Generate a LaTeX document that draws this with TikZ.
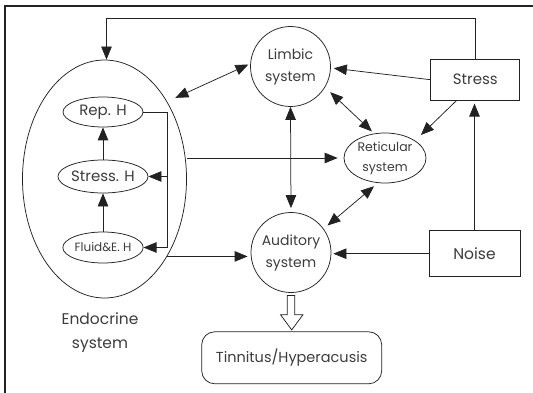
\documentclass[tikz,border=0pt]{standalone}
\usepackage{fontspec}
\setmainfont{Poppins}
\usetikzlibrary{shapes.geometric,arrows.meta,calc}
\definecolor{ln}{HTML}{222222}
\definecolor{tx}{HTML}{3C3C3C}
\begin{document}
\begin{tikzpicture}[x=1pt,y=-1pt,
  every node/.style={text=tx, align=center, inner sep=0pt, line width=0.75pt, draw=ln},
  lbl/.style={draw=none},
  circ/.style={circle, minimum size=80pt},
  ell/.style={ellipse},
  boxn/.style={rectangle},
  arr/.style={draw=ln, line width=0.75pt, -{Triangle[length=13pt,width=10.5pt]}},
  darr/.style={draw=ln, line width=0.75pt, {Triangle[length=13pt,width=10.5pt]}-{Triangle[length=13pt,width=10.5pt]}},
  plain/.style={draw=ln, line width=0.75pt}
]
\useasboundingbox (0,0) rectangle (533,393);
\draw[draw=ln, line width=1.1pt] (5,393) -- (5,6) -- (533,6);

% nodes
\node[ell, minimum width=164pt, minimum height=238pt] (endo) at (104.5,179) {};
\node[ell, minimum width=80pt, minimum height=30pt, font=\fontsize{15}{17}\selectfont] (reph) at (103,112) {Rep. H};
\node[ell, minimum width=80pt, minimum height=33pt, font=\fontsize{15}{17}\selectfont] (stressh) at (103,176.5) {Stress. H};
\node[ell, minimum width=80pt, minimum height=31pt, font=\fontsize{12}{14}\selectfont] (fluid) at (103,247.5) {Fluid\&E. H};
\node[lbl, font=\fontsize{15.5}{24}\selectfont] (endolbl) at (100,333) {Endocrine\\system};

\node[circ, font=\fontsize{14}{22}\selectfont] (limbic) at (290.5,66.5) {Limbic\\system};
\node[circ, font=\fontsize{14}{22}\selectfont] (aud) at (291,252.5) {Auditory\\system};
\node[ell, minimum width=82pt, minimum height=50pt, font=\fontsize{12.5}{20}\selectfont] (ret) at (385,158) {Reticular\\system};

\node[boxn, minimum width=89pt, minimum height=41pt, font=\fontsize{15}{18}\selectfont] (stress) at (475.3,79.7) {Stress};
\node[boxn, minimum width=91pt, minimum height=46pt, font=\fontsize{15.5}{18}\selectfont] (noise) at (474.5,253.7) {Noise};
\node[boxn, rounded corners=13pt, minimum width=180pt, minimum height=52pt, font=\fontsize{14.5}{18}\selectfont] (tinn) at (291.7,357.8) {Tinnitus/Hyperacusis};

% connectors
\coordinate (tl) at (106.5,18.3);
\draw[arr] (stress.north) |- (tl) -- (tl |- endo.north);
\draw[arr, shorten >=3pt] (stress.west) -- (limbic.-2);
\draw[arr, shorten >=8pt] (stress.228) -- (ret.30);
\draw[arr, shorten >=3pt] (noise.north) -- (noise.north |- stress.south);
\draw[arr, shorten >=2pt] (noise.west) -- (noise.west -| aud.east);
\draw[darr, shorten <=4pt] (aud.north) -- (limbic.south);
\draw[darr, shorten <=7pt, shorten >=3pt] (limbic.-31) -- (ret.114);
\draw[darr, shorten <=5pt, shorten >=5pt] (aud.36) -- (ret.-106);
\draw[darr, shorten <=9pt, shorten >=2pt] (endo.51) -- (limbic.176);
\draw[arr, shorten >=6pt] (ret.west -| endo.east) -- (ret.west);
\draw[arr, shorten >=3pt] (endo.-51) -- (endo.-51 -| aud.west);

\draw[arr] (fluid.north) -- (stressh.south);
\draw[arr] (stressh.north) -- (reph.south);
\coordinate (bx) at (167,0);
\draw[arr] (reph.east) -- (reph.east -| bx) |- (fluid.east);
\draw[arr] (stressh.east -| bx) -- (stressh.east);

% hollow block arrow
\draw[plain, fill=white, line join=miter]
  ($(aud.south)+(-3.7,2.7)$) -- ($(aud.south)+(3.7,2.7)$) -- ($(aud.south)+(3.7,21.8)$)
  -- ($(aud.south)+(12,21.8)$) -- ($(tinn.north)+(0,-1.5)$) -- ($(aud.south)+(-10.5,21.8)$)
  -- ($(aud.south)+(-3.7,21.8)$) -- cycle;
\end{tikzpicture}
\end{document}
